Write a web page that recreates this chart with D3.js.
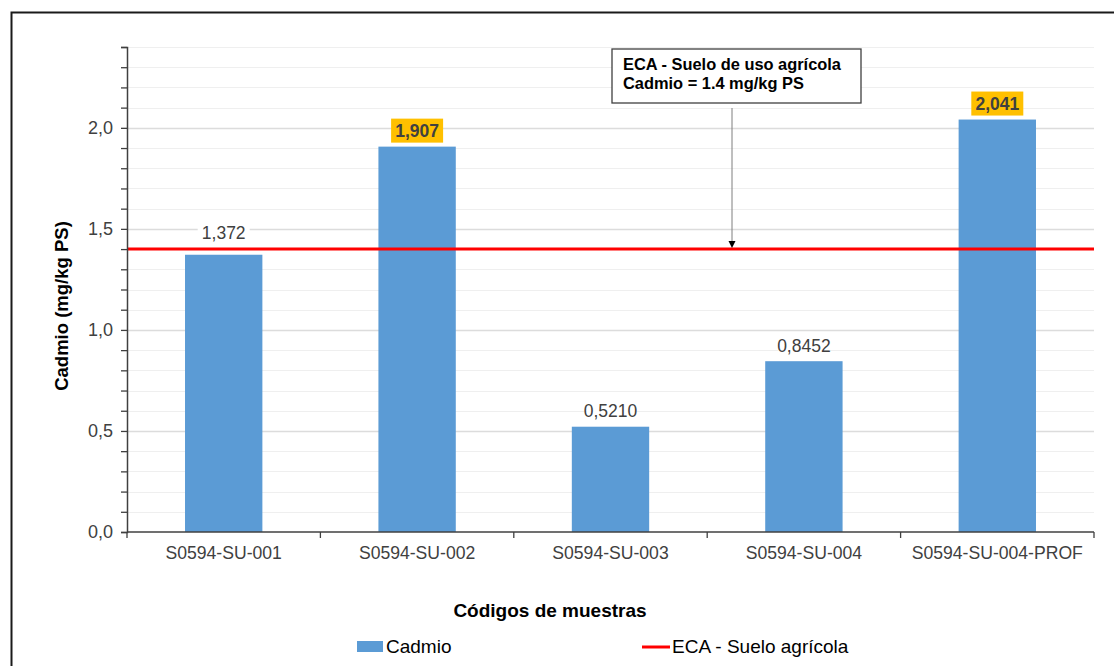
<!DOCTYPE html>
<html>
<head>
<meta charset="utf-8">
<script src="https://cdn.jsdelivr.net/npm/d3@7"></script>
<style>
  body { margin: 0; background: #fff; }
  svg { font-family: "Liberation Sans", Arial, sans-serif; display: block; }
</style>
</head>
<body>
<div id="chart"></div>
<script>
const muestras = ["S0594-SU-001", "S0594-SU-002", "S0594-SU-003", "S0594-SU-004", "S0594-SU-004-PROF"];
const cadmio = [1.372, 1.907, 0.5210, 0.8452, 2.041];
const etiquetas = ["1,372", "1,907", "0,5210", "0,8452", "2,041"];
const resaltado = [false, true, false, false, true];
const eca = 1.4;
const yTicks = [0, 0.5, 1.0, 1.5, 2.0];

const width = 1114, height = 666;
const margin = { top: 47, right: 20, bottom: 134, left: 127 };
const innerWidth = 1094 - margin.left;
const innerHeight = 532 - margin.top;

const svg = d3.select("#chart").append("svg")
    .attr("width", width)
    .attr("height", height);

// outer frame (right and bottom sides run off the picture)
svg.append("path")
    .attr("d", "M1120,12.5 H11.5 V670")
    .attr("fill", "none")
    .attr("stroke", "#1a1a1a")
    .attr("stroke-width", 2);

const chart = svg.append("g")
    .attr("transform", `translate(${margin.left},${margin.top})`);

const x = d3.scaleBand()
    .domain(muestras)
    .range([0, innerWidth])
    .paddingInner(0.6)
    .paddingOuter(0.3);

const xb = d3.scaleBand().domain(muestras).range([0, innerWidth]);

const y = d3.scaleLinear()
    .domain([0, 2.4])
    .range([innerHeight, 0]);

// gridlines every 0.1
const minor = d3.range(1, 25).map(d => d / 10);
chart.selectAll(".grid")
    .data(minor)
    .enter()
    .append("line")
    .attr("x1", 0)
    .attr("x2", innerWidth)
    .attr("y1", d => Math.round(y(d)) + 0.5)
    .attr("y2", d => Math.round(y(d)) + 0.5)
    .attr("stroke", (d, i) => (i + 1) % 5 === 0 ? "#dcdcdc" : "#efefef")
    .attr("stroke-width", (d, i) => (i + 1) % 5 === 0 ? 1.6 : 1.2);

// bars
chart.selectAll(".bar")
    .data(cadmio)
    .enter()
    .append("rect")
    .attr("x", (d, i) => x(muestras[i]))
    .attr("y", d => y(d))
    .attr("width", x.bandwidth())
    .attr("height", d => innerHeight - y(d))
    .attr("fill", "#5b9bd5");

// ECA line
chart.append("line")
    .attr("x1", 0)
    .attr("x2", innerWidth)
    .attr("y1", y(eca))
    .attr("y2", y(eca))
    .attr("stroke", "#ff0000")
    .attr("stroke-width", 3);

// y axis
const yAxis = chart.append("g")
    .call(d3.axisLeft(y).tickValues(d3.range(0, 25).map(d => d / 10)).tickSize(6).tickFormat(""));
yAxis.selectAll("line").attr("stroke", "#404040").attr("stroke-width", 1.3);
yAxis.select(".domain").attr("stroke", "#404040").attr("stroke-width", 1.5);

chart.selectAll(".ylab")
    .data(yTicks)
    .enter()
    .append("text")
    .attr("x", -14)
    .attr("y", d => y(d))
    .attr("dy", "0.36em")
    .attr("text-anchor", "end")
    .style("font-size", "18px")
    .style("fill", "#404040")
    .text(d => d.toFixed(1).replace(".", ","));

// x axis
const xg = chart.append("g").attr("transform", `translate(0,${innerHeight})`);
xg.append("line")
    .attr("x1", 0).attr("x2", innerWidth)
    .attr("stroke", "#404040").attr("stroke-width", 1.5);
xg.selectAll(".xt")
    .data(muestras.concat(["end"]))
    .enter()
    .append("line")
    .attr("x1", (d, i) => i < muestras.length ? xb(d) : innerWidth)
    .attr("x2", (d, i) => i < muestras.length ? xb(d) : innerWidth)
    .attr("y1", 0).attr("y2", 6)
    .attr("stroke", "#404040").attr("stroke-width", 1.3);
xg.selectAll(".xl")
    .data(muestras)
    .enter()
    .append("text")
    .attr("x", d => xb(d) + xb.bandwidth() / 2)
    .attr("y", 27)
    .attr("text-anchor", "middle")
    .style("font-size", "17.6px")
    .style("fill", "#404040")
    .text(d => d);

// value labels (lifted a little more when the label would sit on the ECA line)
const labels = chart.selectAll(".vl")
    .data(cadmio)
    .enter()
    .append("g")
    .attr("transform", (d, i) => {
        const near = Math.abs(y(d) - 16 - y(eca)) < 14;
        return `translate(${x(muestras[i]) + x.bandwidth() / 2},${y(d) - (near ? 22 : 16)})`;
    });

labels.append("rect")
    .attr("x", -26)
    .attr("y", -12)
    .attr("width", 52)
    .attr("height", 24)
    .attr("fill", (d, i) => resaltado[i] ? "#ffc000" : "#ffffff");

labels.append("text")
    .attr("text-anchor", "middle")
    .attr("dy", "0.36em")
    .style("font-size", "17.5px")
    .style("font-weight", (d, i) => resaltado[i] ? "bold" : "normal")
    .style("fill", "#404040")
    .text((d, i) => etiquetas[i]);

// annotation
const ax = 732 - margin.left;
chart.append("line")
    .attr("x1", ax).attr("x2", ax)
    .attr("y1", 108 - margin.top)
    .attr("y2", y(eca) - 6)
    .attr("stroke", "#7f7f7f")
    .attr("stroke-width", 1);
chart.append("path")
    .attr("d", `M${ax - 3.5},${y(eca) - 8} L${ax + 3.5},${y(eca) - 8} L${ax},${y(eca) - 1} Z`)
    .attr("fill", "#000");

const note = chart.append("g").attr("transform", `translate(${612 - margin.left},${49 - margin.top})`);
note.append("rect")
    .attr("width", 249)
    .attr("height", 54)
    .attr("fill", "#fff")
    .attr("stroke", "#404040")
    .attr("stroke-width", 1.3);
note.append("text")
    .attr("x", 11).attr("y", 21)
    .style("font-size", "16.4px").style("font-weight", "bold").style("fill", "#000")
    .text("ECA - Suelo de uso agrícola");
note.append("text")
    .attr("x", 11).attr("y", 40)
    .style("font-size", "16.4px").style("font-weight", "bold").style("fill", "#000")
    .text("Cadmio = 1.4 mg/kg PS");

// axis titles
svg.append("text")
    .attr("x", 550)
    .attr("y", 617)
    .attr("text-anchor", "middle")
    .style("font-size", "19px").style("font-weight", "bold").style("fill", "#000")
    .text("Códigos de muestras");

svg.append("text")
    .attr("transform", "translate(68,306) rotate(-90)")
    .attr("text-anchor", "middle")
    .style("font-size", "18.5px").style("font-weight", "bold").style("fill", "#000")
    .text("Cadmio (mg/kg PS)");

// legend
const leg = svg.append("g");
leg.append("rect")
    .attr("x", 357).attr("y", 641).attr("width", 26).attr("height", 11)
    .attr("fill", "#5b9bd5");
leg.append("text")
    .attr("x", 386).attr("y", 653)
    .style("font-size", "19px").style("fill", "#000")
    .text("Cadmio");
leg.append("line")
    .attr("x1", 642).attr("x2", 670).attr("y1", 647).attr("y2", 647)
    .attr("stroke", "#ff0000").attr("stroke-width", 3);
leg.append("text")
    .attr("x", 672).attr("y", 653)
    .style("font-size", "19px").style("fill", "#000")
    .text("ECA - Suelo agrícola");
</script>
</body>
</html>
